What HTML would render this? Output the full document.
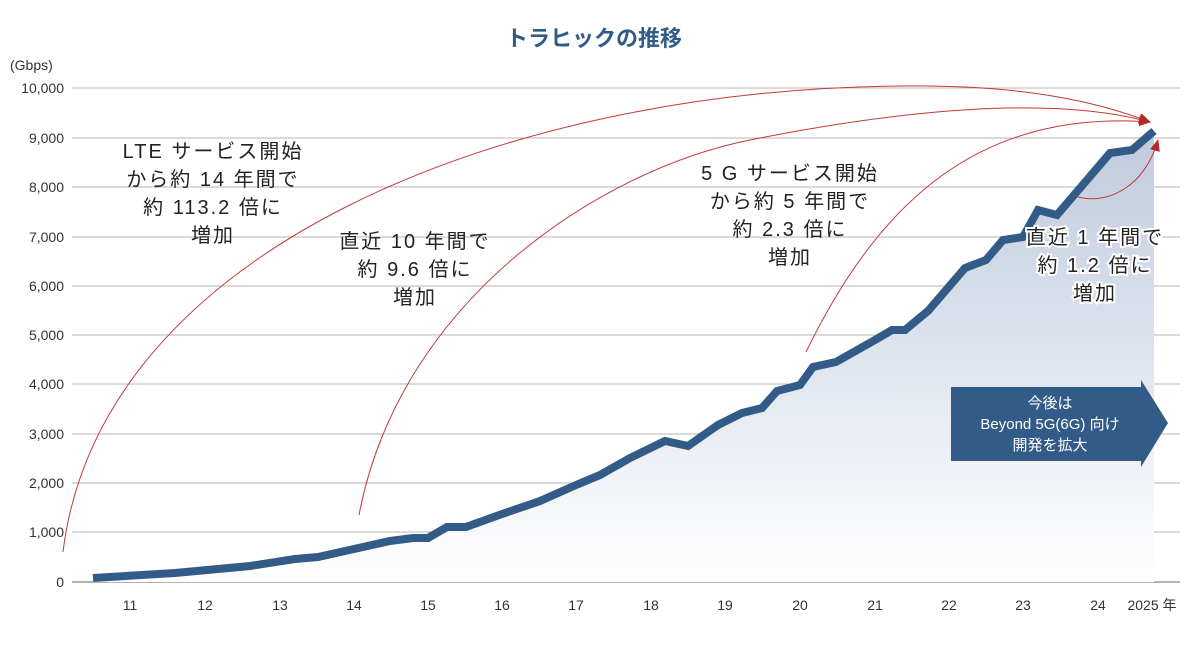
<!DOCTYPE html><html><head><meta charset="utf-8"><style>body{margin:0;background:#fff}svg{display:block}text{font-family:"Liberation Sans","Noto Sans CJK JP",sans-serif}</style></head><body>
<svg width="1189" height="648" viewBox="0 0 1189 648">
<defs><linearGradient id="g" x1="0" y1="0" x2="0" y2="1"><stop offset="0" stop-color="#bfcadd"/><stop offset="1" stop-color="#ffffff"/></linearGradient>
<marker id="ar" markerWidth="12" markerHeight="10" refX="11" refY="5" orient="auto" markerUnits="userSpaceOnUse"><path d="M0,0 L12,5 L0,10 Z" fill="#b22a2a"/></marker></defs>
<text x="594" y="46" text-anchor="middle" font-size="22" font-weight="bold" fill="#335b88">トラヒックの推移</text>
<text x="10" y="70" font-size="14" fill="#333">(Gbps)</text>
<g stroke="#b5b5b5" stroke-width="1">
<line x1="72" y1="88" x2="1180" y2="88"/><line x1="72" y1="138" x2="1180" y2="138"/><line x1="72" y1="187" x2="1180" y2="187"/><line x1="72" y1="237" x2="1180" y2="237"/><line x1="72" y1="286" x2="1180" y2="286"/><line x1="72" y1="335" x2="1180" y2="335"/><line x1="72" y1="384" x2="1180" y2="384"/><line x1="72" y1="434" x2="1180" y2="434"/><line x1="72" y1="483" x2="1180" y2="483"/><line x1="72" y1="532" x2="1180" y2="532"/><line x1="72" y1="582" x2="1180" y2="582" stroke="#666"/></g>
<g font-size="14" fill="#333" text-anchor="end">
<text x="64" y="93">10,000</text><text x="64" y="143">9,000</text><text x="64" y="192">8,000</text><text x="64" y="242">7,000</text><text x="64" y="291">6,000</text><text x="64" y="340">5,000</text><text x="64" y="389">4,000</text><text x="64" y="439">3,000</text><text x="64" y="488">2,000</text><text x="64" y="537">1,000</text><text x="64" y="587">0</text></g>
<g font-size="14" fill="#333" text-anchor="middle">
<text x="130" y="610">11</text><text x="205" y="610">12</text><text x="280" y="610">13</text><text x="354" y="610">14</text><text x="428" y="610">15</text><text x="502" y="610">16</text><text x="576" y="610">17</text><text x="651" y="610">18</text><text x="725" y="610">19</text><text x="800" y="610">20</text><text x="875" y="610">21</text><text x="949" y="610">22</text><text x="1023" y="610">23</text><text x="1098" y="610">24</text><text x="1152" y="610">2025 年</text></g>
<path d="M93,578 L175,573 L250,566 L295,559 L318,557 L354,549 L390,541 L413,538 L428,538 L447,527 L466,527 L502,514 L540,501 L576,485 L600,475 L630,458 L665,441 L688,446 L718,425 L742,413 L762,408 L777,391 L800,385 L813,367 L836,362 L875,340 L892,330 L905,330 L928,311 L965,268 L986,260 L1003,240 L1023,237 L1038,210 L1057,215 L1110,153 L1132,150 L1154,131 L1154,582 L93,582 Z" fill="url(#g)"/>
<path d="M93,578 L175,573 L250,566 L295,559 L318,557 L354,549 L390,541 L413,538 L428,538 L447,527 L466,527 L502,514 L540,501 L576,485 L600,475 L630,458 L665,441 L688,446 L718,425 L742,413 L762,408 L777,391 L800,385 L813,367 L836,362 L875,340 L892,330 L905,330 L928,311 L965,268 L986,260 L1003,240 L1023,237 L1038,210 L1057,215 L1110,153 L1132,150 L1154,131" fill="none" stroke="#335b88" stroke-width="8" stroke-linejoin="miter"/>
<g fill="none" stroke="#c23a3a" stroke-width="1">
<path d="M63,552 C100,250 500,90 900,86 C1000,85 1080,95 1150,122" marker-end="url(#ar)"/>
<path d="M359,515 C400,300 600,170 750,140 C900,110 1050,95 1150,122" marker-end="url(#ar)"/>
<path d="M806,352 C880,200 980,110 1150,122" marker-end="url(#ar)"/>
<path d="M1078,197 C1110,205 1145,185 1158,140" marker-end="url(#ar)"/></g>
<g font-size="20" fill="#222" text-anchor="middle" letter-spacing="2">
<text x="213" y="158">LTE サービス開始</text><text x="213" y="186">から約 14 年間で</text><text x="213" y="214">約 113.2 倍に</text><text x="213" y="242">増加</text>
<text x="415" y="248">直近 10 年間で</text><text x="415" y="276">約 9.6 倍に</text><text x="415" y="304">増加</text>
<text x="790" y="180">5 G サービス開始</text><text x="790" y="208">から約 5 年間で</text><text x="790" y="236">約 2.3 倍に</text><text x="790" y="264">増加</text>
<g stroke="#fff" stroke-width="4" paint-order="stroke"><text x="1095" y="244">直近 1 年間で</text><text x="1095" y="272">約 1.2 倍に</text><text x="1095" y="300">増加</text></g></g>
<path d="M951,387 L1141,387 L1141,380 L1168,423 L1141,467 L1141,461 L951,461 Z" fill="#335b88"/>
<g font-size="15" fill="#fff" text-anchor="middle"><text x="1050" y="408">今後は</text><text x="1050" y="429">Beyond 5G(6G) 向け</text><text x="1050" y="450">開発を拡大</text></g>
</svg></body></html>
